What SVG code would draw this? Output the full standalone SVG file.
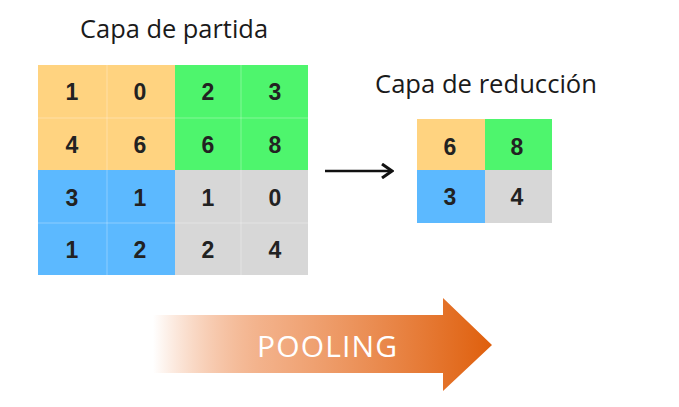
<svg xmlns="http://www.w3.org/2000/svg" width="679" height="407" viewBox="0 0 679 407">
<style>
.title{font-family:"Open Sans","Liberation Sans",sans-serif;font-size:26px;fill:#1a1a1a}
.num{font-family:"Liberation Sans",Arial,sans-serif;font-size:23px;font-weight:bold;fill:#222;text-anchor:middle}
.o{fill:#FFD380}.g{fill:#4EF56D}.b{fill:#5CB9FF}.y{fill:#D7D7D7}
.sep{stroke:#ffffff;stroke-opacity:0.3;stroke-width:1}
.pool{font-family:"Open Sans","Liberation Sans",sans-serif;font-size:30px;fill:#ffffff}
</style>
<defs>
<linearGradient id="fade" x1="153" y1="0" x2="492" y2="0" gradientUnits="userSpaceOnUse">
<stop offset="0" stop-color="#E8671A" stop-opacity="0"/>
<stop offset="0.35" stop-color="#F0A070" stop-opacity="0.85"/>
<stop offset="1" stop-color="#DF5F0C"/>
</linearGradient>
<marker id="ah" markerWidth="14" markerHeight="16" refX="12" refY="8" orient="auto" markerUnits="userSpaceOnUse">
<path d="M2,1 L12,8 L2,15" fill="none" stroke="#111" stroke-width="3"/>
</marker>
</defs>
<rect width="679" height="407" fill="#ffffff"/>
<text class="title" x="80" y="38" textLength="188" lengthAdjust="spacingAndGlyphs">Capa de partida</text>
<text class="title" x="375" y="93" textLength="222" lengthAdjust="spacingAndGlyphs">Capa de reducción</text>
<g id="input-layer">
<rect class="o" x="38" y="65" width="137" height="105"/>
<rect class="g" x="175" y="65" width="133" height="105"/>
<rect class="b" x="38" y="170" width="137" height="105"/>
<rect class="y" x="175" y="170" width="133" height="105"/>
<line class="sep" x1="107" y1="65" x2="107" y2="275"/>
<line class="sep" x1="241" y1="65" x2="241" y2="275"/>
<line class="sep" x1="38" y1="118" x2="308" y2="118"/>
<line class="sep" x1="38" y1="223" x2="308" y2="223"/>
<text class="num" x="72" y="100">1</text>
<text class="num" x="140" y="100">0</text>
<text class="num" x="208" y="100">2</text>
<text class="num" x="275" y="100">3</text>
<text class="num" x="72" y="153">4</text>
<text class="num" x="140" y="153">6</text>
<text class="num" x="208" y="153">6</text>
<text class="num" x="275" y="153">8</text>
<text class="num" x="72" y="206">3</text>
<text class="num" x="140" y="206">1</text>
<text class="num" x="208" y="206">1</text>
<text class="num" x="275" y="206">0</text>
<text class="num" x="72" y="258">1</text>
<text class="num" x="140" y="258">2</text>
<text class="num" x="208" y="258">2</text>
<text class="num" x="275" y="258">4</text>
</g>
<g id="output-layer">
<rect class="o" x="417" y="119" width="68" height="51"/>
<rect class="g" x="485" y="119" width="67" height="51"/>
<rect class="b" x="417" y="170" width="68" height="53"/>
<rect class="y" x="485" y="170" width="67" height="53"/>
<text class="num" x="450" y="155">6</text>
<text class="num" x="517" y="155">8</text>
<text class="num" x="450" y="205">3</text>
<text class="num" x="517" y="205">4</text>
</g>
<g id="connectors">
<line x1="325" y1="171" x2="392" y2="171" stroke="#111" stroke-width="2.5" marker-end="url(#ah)"/>
</g>
<g id="pooling">
<path d="M153,315 L443,315 L443,298 L492,345 L443,391 L443,373 L153,373 Z" fill="url(#fade)"/>
<text class="pool" x="257" y="357" textLength="140">POOLING</text>
</g>
</svg>
